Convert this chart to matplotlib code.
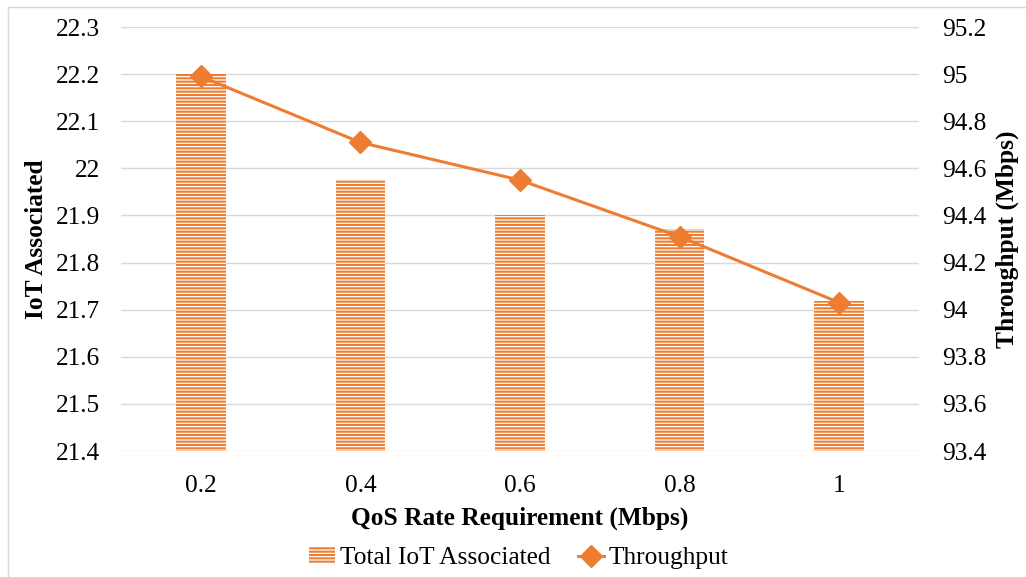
import matplotlib
matplotlib.use("Agg")
import matplotlib.pyplot as plt
from matplotlib.patches import Rectangle
from matplotlib.lines import Line2D
import numpy as np

categories = ["0.2", "0.4", "0.6", "0.8", "1"]
iot_associated = [22.2, 21.975, 21.90, 21.871, 21.718]
throughput = [94.99, 94.71, 94.55, 94.31, 94.03]
left_ticks = [21.4, 21.5, 21.6, 21.7, 21.8, 21.9, 22.0, 22.1, 22.2, 22.3]
left_labels = ["21.4", "21.5", "21.6", "21.7", "21.8", "21.9", "22", "22.1", "22.2", "22.3"]
right_ticks = [93.4, 93.6, 93.8, 94.0, 94.2, 94.4, 94.6, 94.8, 95.0, 95.2]
right_labels = ["93.4", "93.6", "93.8", "94", "94.2", "94.4", "94.6", "94.8", "95", "95.2"]

ORANGE = "#ED7D31"
GRID = "#D9D9D9"
FS = 18.3

plt.rcParams['font.family'] = ['Liberation Serif', 'DejaVu Serif']
plt.rcParams['hatch.linewidth'] = 1.5
plt.rcParams['hatch.color'] = ORANGE

fig = plt.figure(figsize=(10.26, 5.77), dpi=100)
fig.patches.append(Rectangle((8/1026, -0.1), 1.2, (577-7)/577 + 0.1, transform=fig.transFigure,
                             fill=False, edgecolor=GRID, linewidth=1.0))
ax = fig.add_axes([121/1026, 1-451/577, (919-121)/1026, (451-27)/577])
ax2 = ax.twinx()

x = np.arange(len(categories))
ax.bar(x, iot_associated, width=0.31, color="white", edgecolor=ORANGE, linewidth=0,
       hatch="-----", zorder=2, label="Total IoT Associated")
ax.set_ylim(21.4, 22.3)
ax.set_xlim(-0.5, len(categories) - 0.5)
ax.set_yticks(left_ticks)
ax.set_yticklabels(left_labels)
ax.set_xticks(x)
ax.set_xticklabels(categories)
ax.yaxis.grid(True, color=GRID, linewidth=1.0, zorder=0)
ax.set_axisbelow(True)

ax2.plot(x, throughput, color=ORANGE, linewidth=2.2, marker="D", markersize=11.5,
         label="Throughput", zorder=3)
ax2.set_ylim(93.4, 95.2)
ax2.set_yticks(right_ticks)
ax2.set_yticklabels(right_labels)

for a in (ax, ax2):
    for s in a.spines.values():
        s.set_visible(False)
    a.tick_params(length=0, labelsize=FS, colors="#000000")
ax.tick_params(axis='y', pad=15)
ax.tick_params(axis='x', pad=17.5)
ax2.tick_params(axis='y', pad=16.5)

ax.set_ylabel("IoT Associated", fontsize=FS, fontweight="bold", labelpad=6)
ax2.set_ylabel("Throughput (Mbps)", fontsize=FS, fontweight="bold", rotation=90, labelpad=7)
ax.set_xlabel("QoS Rate Requirement (Mbps)", fontsize=FS, fontweight="bold", labelpad=7)

handles = [Rectangle((0, 0), 1, 1, facecolor="white", edgecolor=ORANGE, linewidth=0, hatch="-----"),
           Line2D([0], [0], color=ORANGE, linewidth=2.2, marker="D", markersize=11.5)]
fig.legend(handles, ["Total IoT Associated", "Throughput"], loc="center",
           bbox_to_anchor=(519/1026, 1-558/577), ncol=2, frameon=False, fontsize=FS,
           handlelength=1.0, handleheight=0.55, handletextpad=0.2, columnspacing=1.1)

fig.savefig("out.png", dpi=100)
